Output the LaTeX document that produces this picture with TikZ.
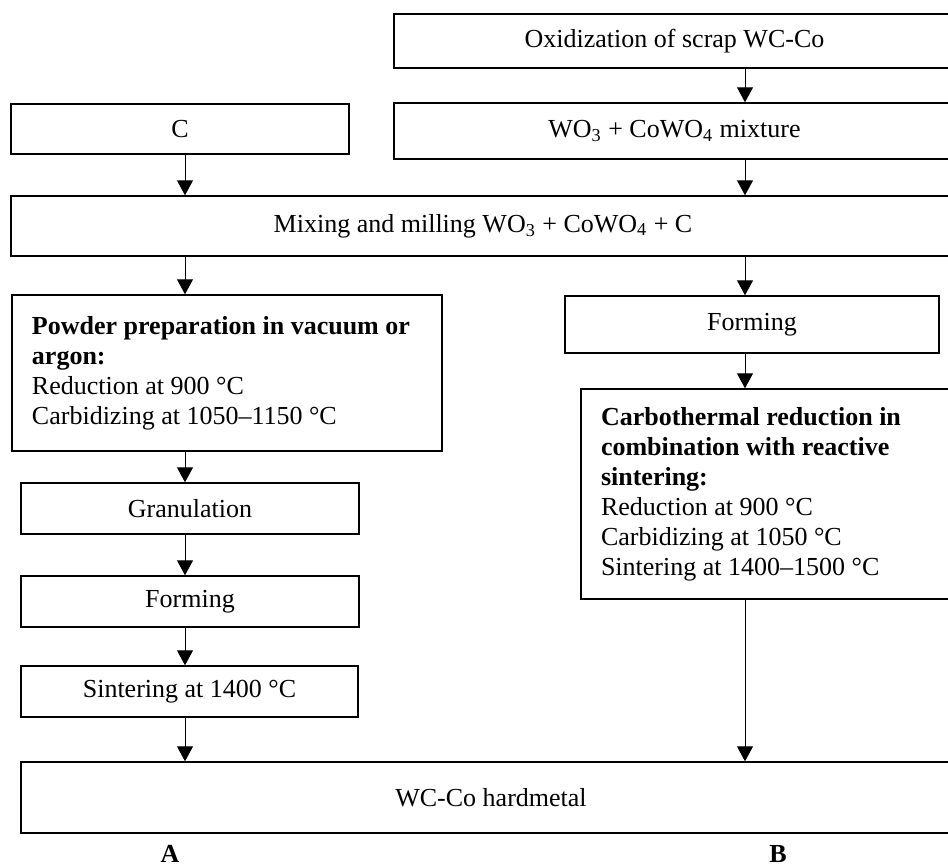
\documentclass[tikz,border=0pt]{standalone}
\usepackage{fontspec}
\setmainfont{Liberation Serif}
\usepackage{tikz}
\usetikzlibrary{arrows.meta}

\tikzset{
    stepbox/.style={draw, rectangle, line width=0.7pt, inner sep=0pt,
                    font=\fontsize{13}{15}\selectfont},
    notebox/.style={stepbox, align=flush left, inner xsep=10pt},
    flow/.style={-{Triangle[width=8pt,length=7.5pt]}, line width=0.5pt},
    routelabel/.style={font=\fontsize{13}{15}\selectfont\bfseries}
}

\begin{document}
\begin{tikzpicture}[x=0.5pt, y=-0.5pt]
    \useasboundingbox (0,0) rectangle (948,867);
    \coordinate (colA) at (185,0);
    \coordinate (colB) at (745,0);

    \node[stepbox, minimum width=280.5pt, minimum height=27pt] (oxid) at (674.5,41)
        {Oxidization of scrap WC-Co};
    \node[stepbox, minimum width=169pt, minimum height=25pt] (carbon) at (180,129) {C};
    \node[stepbox, minimum width=280.5pt, minimum height=28pt] (oxides) at (674.5,131)
        {WO\textsubscript{3} + CoWO\textsubscript{4} mixture};
    \node[stepbox, minimum width=472pt, minimum height=30pt] (milling) at (483,226)
        {Mixing and milling WO\textsubscript{3} + CoWO\textsubscript{4} + C};

    \node[notebox, text width=195pt, minimum height=78pt] (powder) at (227,373) {
      \textbf{Powder preparation in vacuum or}\\
      \textbf{argon:}\\
      Reduction at 900 °C\\
      Carbidizing at 1050–1150 °C
    };
    \node[stepbox, minimum width=169pt, minimum height=25.5pt] (granul) at (190,508.5) {Granulation};
    \node[stepbox, minimum width=169pt, minimum height=25.5pt] (formA) at (190,601.5) {Forming};
    \node[stepbox, minimum width=168.5pt, minimum height=25.5pt] (sinterA) at (189.5,691.5)
        {Sintering at 1400 °C};

    \node[stepbox, minimum width=187pt, minimum height=28.5pt] (formB) at (752,324.5) {Forming};
    \node[notebox, text width=170pt, minimum height=105pt] (carbo) at (771,494) {
      \textbf{Carbothermal reduction in}\\
      \textbf{combination with reactive}\\
      \textbf{sintering:}\\
      Reduction at 900 °C\\
      Carbidizing at 1050 °C\\
      Sintering at 1400–1500 °C
    };

    \node[stepbox, minimum width=470pt, minimum height=35.5pt] (hardmetal) at (491,797.5)
        {WC-Co hardmetal};

    \node[routelabel] (routeA) at (170,854) {A};
    \node[routelabel] (routeB) at (778,854) {B};

    \draw[flow] (oxid.south -| colB) -- (oxides.north -| colB);
    \draw[flow] (carbon.south -| colA) -- (milling.north -| colA);
    \draw[flow] (oxides.south -| colB) -- (milling.north -| colB);
    \draw[flow] (milling.south -| colA) -- (powder.north -| colA);
    \draw[flow] (milling.south -| colB) -- (formB.north -| colB);
    \draw[flow] (powder.south -| colA) -- (granul.north -| colA);
    \draw[flow] (granul.south -| colA) -- (formA.north -| colA);
    \draw[flow] (formA.south -| colA) -- (sinterA.north -| colA);
    \draw[flow] (sinterA.south -| colA) -- (hardmetal.north -| colA);
    \draw[flow] (formB.south -| colB) -- (carbo.north -| colB);
    \draw[flow] (carbo.south -| colB) -- (hardmetal.north -| colB);
\end{tikzpicture}
\end{document}
